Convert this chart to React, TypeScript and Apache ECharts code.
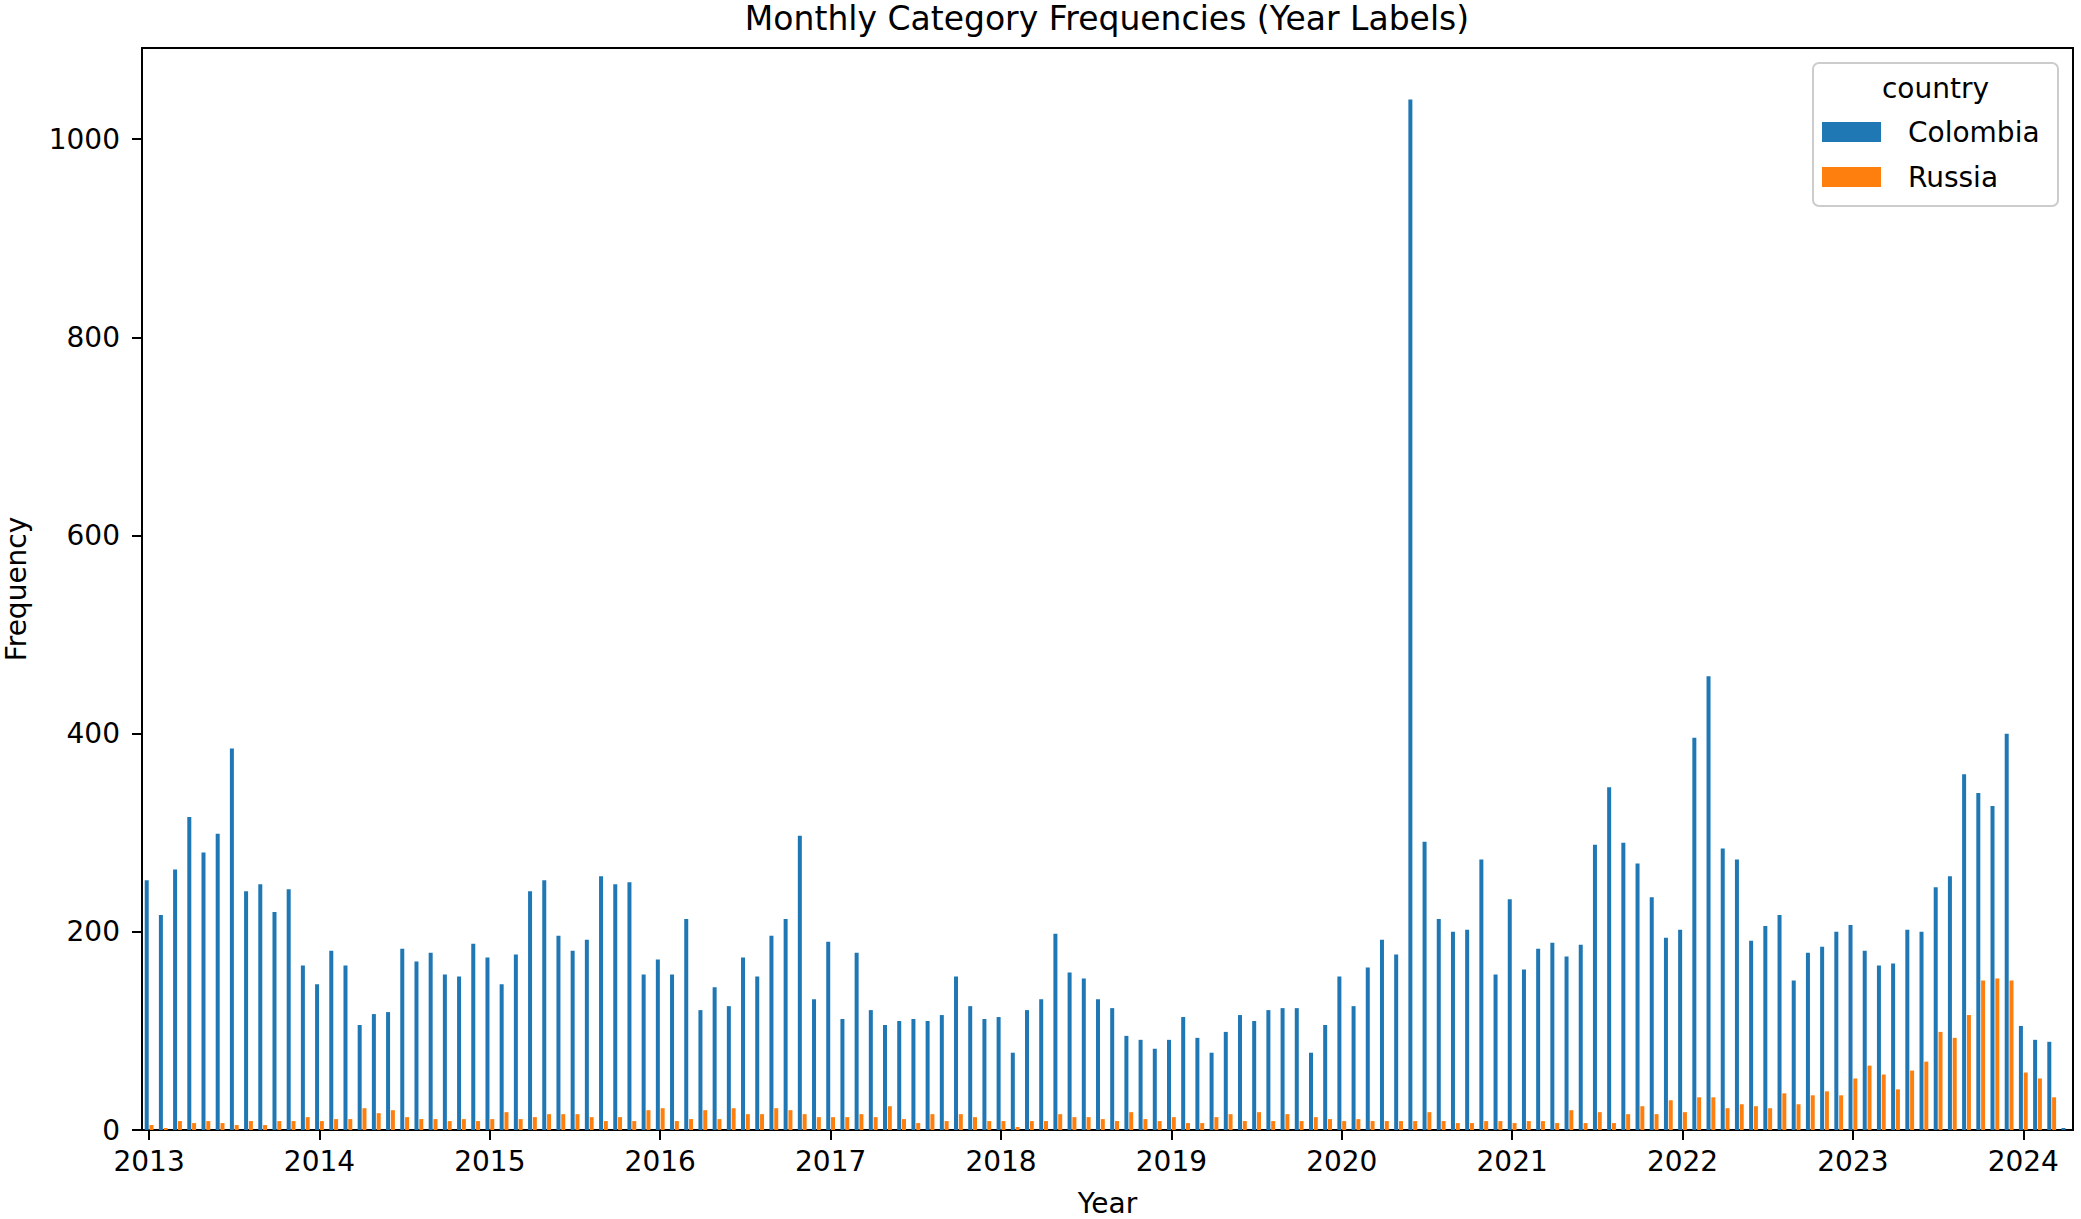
import React, { useEffect, useRef } from "react";
import * as echarts from "echarts";

const years = [2013, 2014, 2015, 2016, 2017, 2018, 2019, 2020, 2021, 2022, 2023, 2024];
const monthCodes = ["01", "02", "03", "04", "05", "06", "07", "08", "09", "10", "11", "12"];

const colombia = [
  252, 217, 263, 316, 280, 299, 385, 241, 248, 220, 243, 166,
  147, 181, 166, 106, 117, 119, 183, 170, 179, 157, 155, 188,
  174, 147, 177, 241, 252, 196, 181, 192, 256, 248, 250, 157,
  172, 157, 213, 121, 144, 125, 174, 155, 196, 213, 297, 132,
  190, 112, 179, 121, 106, 110, 112, 110, 116, 155, 125, 112,
  114, 78, 121, 132, 198, 159, 153, 132, 123, 95, 91, 82,
  91, 114, 93, 78, 99, 116, 110, 121, 123, 123, 78, 106,
  155, 125, 164, 192, 177, 1040, 291, 213, 200, 202, 273, 157,
  233, 162, 183, 189, 175, 187, 288, 346, 290, 269, 235, 194,
  202, 396, 458, 284, 273, 191, 206, 217, 151, 179, 185, 200,
  207, 181, 166, 168, 202, 200, 245, 256, 359, 340, 327, 400,
  105, 91, 89, 2,
];

const russia = [
  5, 2, 9, 7, 9, 7, 5, 9, 5, 9, 9, 13,
  9, 11, 11, 22, 17, 20, 13, 11, 11, 9, 11, 9,
  11, 18, 11, 13, 16, 16, 16, 13, 9, 13, 9, 20,
  22, 9, 11, 20, 11, 22, 16, 16, 22, 20, 16, 13,
  13, 13, 16, 13, 24, 11, 7, 16, 9, 16, 13, 9,
  9, 3, 9, 9, 16, 13, 13, 11, 9, 18, 11, 9,
  13, 7, 7, 13, 16, 9, 18, 9, 16, 9, 13, 11,
  9, 11, 9, 9, 9, 9, 18, 9, 7, 7, 9, 9,
  7, 9, 9, 7, 20, 7, 18, 7, 16, 24, 16, 30,
  18, 33, 33, 22, 26, 24, 22, 37, 26, 35, 39, 35,
  52, 65, 56, 41, 60, 69, 99, 93, 116, 151, 153, 151,
  58, 52, 33, 0,
];

const yTicks = [0, 200, 400, 600, 800, 1000];

const categories = years
  .flatMap((y) => monthCodes.map((m) => `${y}-${m}`))
  .slice(0, colombia.length);

const FONT = "DejaVu Sans";

export default function App() {
  const ref = useRef<HTMLDivElement>(null);

  useEffect(() => {
    if (!ref.current) return;
    const chart = echarts.init(ref.current, undefined, { renderer: "svg" });
    const isJan = (idx: number) => idx % 12 === 0;
    chart.setOption({
      animation: false,
      backgroundColor: "#ffffff",
      textStyle: { fontFamily: FONT, color: "#000" },
      title: {
        text: "Monthly Category Frequencies (Year Labels)",
        left: 1107,
        textAlign: "center",
        top: 2,
        padding: 0,
        textStyle: { fontFamily: FONT, fontSize: 33, fontWeight: "normal", color: "#000" },
      },
      grid: {
        left: 142,
        top: 48,
        width: 1931,
        height: 1082,
        show: true,
        borderColor: "#000",
        borderWidth: 2,
        backgroundColor: "transparent",
        containLabel: false,
        outerBoundsMode: "none",
      },
      legend: {
        orient: "vertical",
        left: 1822,
        top: 118,
        padding: 0,
        itemWidth: 59,
        itemHeight: 20,
        itemGap: 17,
        icon: "rect",
        textStyle: {
          fontFamily: FONT,
          fontSize: 28,
          lineHeight: 28,
          color: "#000",
          padding: [0, 0, 0, 22],
        },
        data: ["Colombia", "Russia"],
        z: 10,
      },
      graphic: [
        {
          type: "rect",
          shape: { x: 1813, y: 63, width: 245, height: 143, r: 6 },
          style: { fill: "rgba(255,255,255,0.85)", stroke: "#cccccc", lineWidth: 2 },
          z: 5,
        },
        {
          type: "text",
          x: 1935.5,
          y: 88,
          style: {
            text: "country",
            fontFamily: FONT,
            fontSize: 28,
            fill: "#000",
            textAlign: "center",
            textVerticalAlign: "middle",
          },
          z: 6,
        },
      ],
      xAxis: {
        type: "category",
        data: categories,
        boundaryGap: true,
        name: "Year",
        nameLocation: "middle",
        nameGap: 59,
        nameTextStyle: { fontFamily: FONT, fontSize: 28, color: "#000" },
        axisLine: { show: true, lineStyle: { color: "#000", width: 2 } },
        axisTick: {
          show: true,
          alignWithLabel: true,
          interval: (idx: number) => isJan(idx),
          length: 10,
          lineStyle: { color: "#000", width: 2 },
        },
        axisLabel: {
          interval: (idx: number) => isJan(idx),
          formatter: (v: string) => v.slice(0, 4),
          fontFamily: FONT,
          fontSize: 28,
          color: "#000",
          margin: 17,
        },
        splitLine: { show: false },
      },
      yAxis: {
        type: "value",
        min: 0,
        max: 1092,
        interval: 200,
        name: "Frequency",
        nameLocation: "middle",
        nameRotate: 90,
        nameGap: 112,
        nameTextStyle: { fontFamily: FONT, fontSize: 28, color: "#000" },
        axisLine: { show: true, lineStyle: { color: "#000", width: 2 } },
        axisTick: {
          show: true,
          length: 10,
          customValues: yTicks,
          lineStyle: { color: "#000", width: 2 },
        },
        axisLabel: {
          customValues: yTicks,
          formatter: (v: number) => String(v),
          fontFamily: FONT,
          fontSize: 28,
          color: "#000",
          margin: 22,
        },
        splitLine: { show: false },
      },
      series: [
        {
          name: "Colombia",
          type: "bar",
          data: colombia,
          barWidth: 4,
          barGap: "20%",
          itemStyle: { color: "#1f77b4" },
        },
        {
          name: "Russia",
          type: "bar",
          data: russia,
          barWidth: 4,
          barGap: "20%",
          itemStyle: { color: "#ff7f0e" },
        },
      ],
    });
    return () => chart.dispose();
  }, []);

  return (
    <div
      ref={ref}
      style={{ position: "fixed", left: 0, top: 0, width: 2081, height: 1219 }}
    />
  );
}
